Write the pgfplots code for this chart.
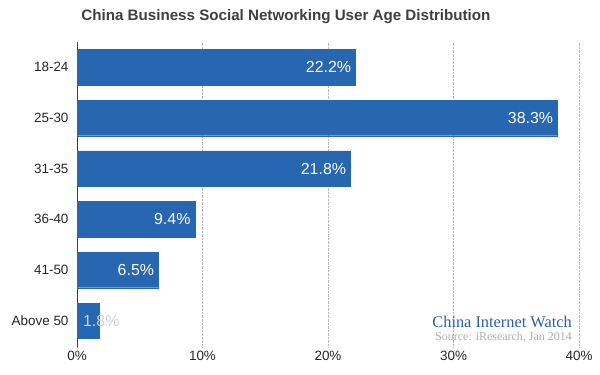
\documentclass[border=0pt]{standalone}
\usepackage{pgfplots}
\pgfplotsset{compat=1.18}
\usepackage{fontspec}
\setmainfont{Liberation Sans}
\newfontfamily\serifcw{Liberation Serif}
\definecolor{barblue}{HTML}{2767B1}
\definecolor{titlegray}{HTML}{3F3F3F}
\definecolor{ciwblue}{HTML}{2A5FA5}
\begin{document}
\begin{tikzpicture}
\begin{axis}[
  scale only axis,
  width=502bp, height=305bp,
  xmin=0, xmax=40,
  ymin=-0.52, ymax=5.5,
  clip=false,
  xbar, bar width=0.7, bar shift=0pt,
  axis lines*=left,
  x axis line style={draw=none},
  y axis line style={draw=black!75, line width=0.6pt},
  xtick={0,10,20,30,40},
  ytick={0,1,2,3,4,5},
  yticklabels={Above 50,41-50,36-40,31-35,25-30,18-24},
  major tick length=0pt,
  xmajorgrids,
  major grid style={densely dotted, draw=black!28, line width=0.5pt},
  xticklabel={\pgfmathprintnumber{\tick}\%},
  /pgf/number format/assume math mode=true,
  tick label style={font=\fontsize{13.5}{16}\selectfont, text=black!85},
  yticklabel style={xshift=-5bp},
  xticklabel style={yshift=-1bp},
  point meta=x,
  nodes near coords={\pgfmathprintnumber[fixed,precision=1,fixed zerofill]{\pgfplotspointmeta}\%},
  every node near coord/.append style={font=\fontsize{16}{18}\selectfont, text=white},
]
\addplot[fill=barblue, draw=barblue, every node near coord/.append style={anchor=east, xshift=-1bp}]
  coordinates {(22.2,5) (38.3,4) (21.8,3) (9.4,2) (6.5,1)};
\addplot[fill=barblue, draw=barblue, every node near coord/.append style={anchor=west, xshift=-20bp, text=white!82!black}, nodes near coords align={horizontal}]
  coordinates {(1.8,0)};
\node[anchor=base, font=\fontsize{15.2}{18}\selectfont\bfseries, text=titlegray] at (axis cs:16.65,5.92) {China Business Social Networking User Age Distribution};
\node[anchor=base east, inner sep=0pt, font=\serifcw\fontsize{16.4}{19}\selectfont, text=ciwblue] at (axis cs:39.44,-0.128) {China Internet Watch};
\node[anchor=base east, inner sep=0pt, font=\serifcw\fontsize{12}{14}\selectfont, text=black!32] at (axis cs:39.44,-0.385) {Source: iResearch, Jan 2014};
\end{axis}
\path[use as bounding box] ([xshift=-77bp,yshift=-28bp]current axis.south west) rectangle ([xshift=21bp,yshift=42bp]current axis.north east);
\end{tikzpicture}
\end{document}
